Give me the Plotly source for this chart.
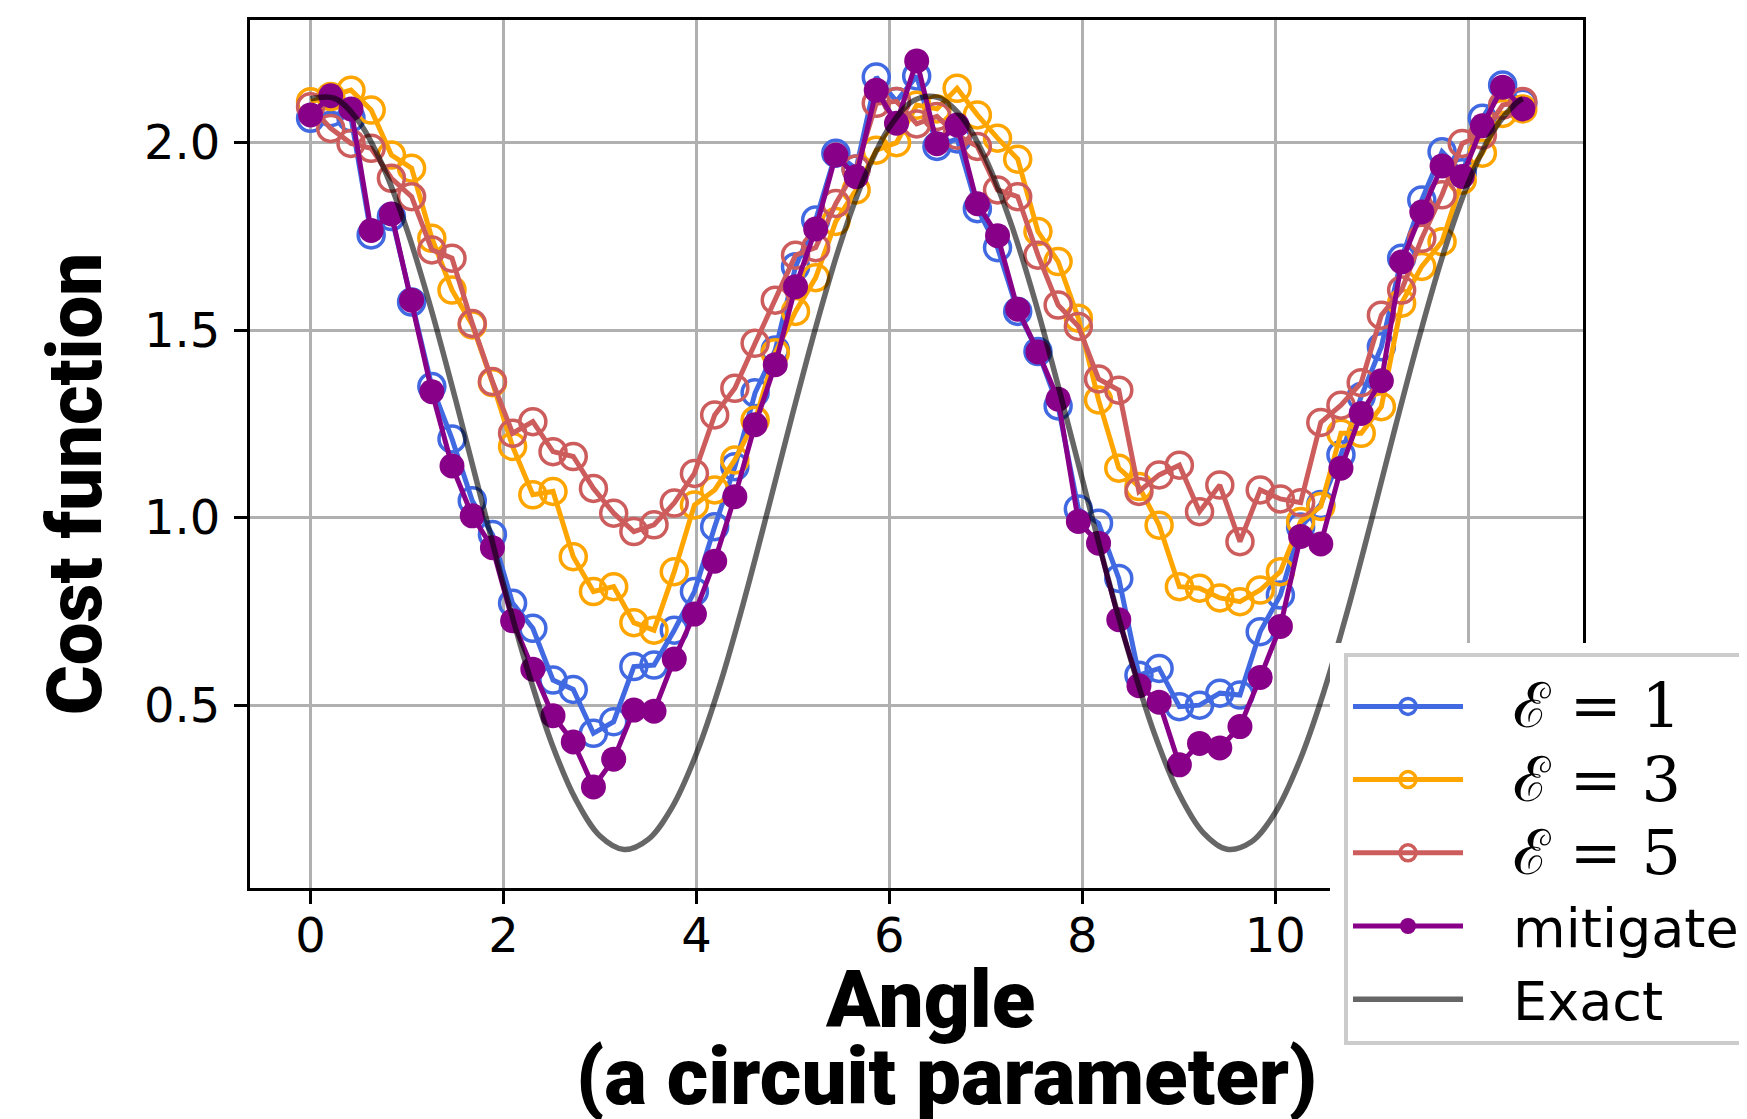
import plotly.graph_objects as go

# ---------------- data ----------------
angle = [0.0, 0.209, 0.419, 0.628, 0.838, 1.047, 1.257, 1.466, 1.676, 1.885,
         2.094, 2.304, 2.513, 2.723, 2.932, 3.142, 3.351, 3.560, 3.770, 3.979,
         4.189, 4.398, 4.608, 4.817, 5.027, 5.236, 5.445, 5.655, 5.864, 6.074,
         6.283, 6.493, 6.702, 6.912, 7.121, 7.330, 7.540, 7.749, 7.959, 8.168,
         8.378, 8.587, 8.796, 9.006, 9.215, 9.425, 9.634, 9.844, 10.053, 10.263,
         10.472, 10.681, 10.891, 11.100, 11.310, 11.519, 11.729, 11.938, 12.147, 12.357,
         12.566]

cost_e1 = [2.065, 2.08, 2.066, 1.754, 1.803, 1.575, 1.35, 1.21, 1.045, 0.955,
           0.772, 0.705, 0.567, 0.542, 0.425, 0.456, 0.603, 0.607, 0.70, 0.803,
           0.976, 1.136, 1.333, 1.447, 1.669, 1.794, 1.972, 1.93, 2.175, 2.11,
           2.178, 1.99, 2.01, 1.824, 1.72, 1.55, 1.443, 1.298, 1.023, 0.985,
           0.838, 0.58, 0.598, 0.496, 0.50, 0.532, 0.527, 0.696, 0.794, 0.975,
           1.035, 1.168, 1.323, 1.456, 1.692, 1.847, 1.976, 1.92, 2.065, 2.154,
           2.105]

cost_e3 = [2.109, 2.123, 2.14, 2.087, 1.967, 1.932, 1.745, 1.607, 1.514, 1.36,
           1.19, 1.061, 1.07, 0.896, 0.803, 0.816, 0.72, 0.70, 0.856, 1.034,
           1.074, 1.154, 1.26, 1.44, 1.55, 1.64, 1.79, 1.874, 1.98, 2.0,
           2.1, 2.09, 2.145, 2.074, 2.012, 1.956, 1.763, 1.683, 1.532, 1.314,
           1.132, 1.083, 0.98, 0.816, 0.812, 0.786, 0.776, 0.807, 0.856, 0.99,
           1.03, 1.225, 1.225, 1.296, 1.572, 1.67, 1.736, 1.90, 1.972, 2.078,
           2.09]

cost_e5 = [2.096, 2.038, 1.998, 1.985, 1.905, 1.856, 1.714, 1.692, 1.518, 1.363,
           1.225, 1.256, 1.176, 1.163, 1.078, 1.012, 0.963, 0.981, 1.039, 1.118,
           1.274, 1.345, 1.465, 1.58, 1.70, 1.72, 1.838, 1.93, 2.105, 2.11,
           2.05, 2.07, 2.02, 1.99, 1.874, 1.856, 1.70, 1.567, 1.51, 1.37,
           1.34, 1.07, 1.114, 1.14, 1.016, 1.087, 0.936, 1.074, 1.05, 1.04,
           1.254, 1.30, 1.36, 1.54, 1.607, 1.745, 1.861, 1.998, 2.02, 2.10,
           2.11]

cost_mitigated = [2.074, 2.125, 2.09, 1.766, 1.81, 1.58, 1.336, 1.138, 1.005, 0.92,
                  0.725, 0.596, 0.472, 0.402, 0.282, 0.356, 0.487, 0.484, 0.623, 0.743,
                  0.884, 1.056, 1.248, 1.408, 1.616, 1.77, 1.967, 1.909, 2.14, 2.052,
                  2.218, 1.997, 2.047, 1.837, 1.752, 1.556, 1.442, 1.316, 0.99, 0.932,
                  0.728, 0.552, 0.508, 0.341, 0.398, 0.386, 0.443, 0.574, 0.71, 0.95,
                  0.93, 1.132, 1.278, 1.365, 1.682, 1.815, 1.938, 1.91, 2.045, 2.148,
                  2.09]

exact_angle = [0.0, 0.25, 0.5, 0.75, 1.0, 1.25, 1.5, 1.75, 2.0, 2.25,
               2.5, 2.75, 3.0, 3.25, 3.5, 3.75, 4.0, 4.25, 4.5, 4.75,
               5.0, 5.25, 5.5, 5.75, 6.0, 6.25, 6.5, 6.75, 7.0, 7.25,
               7.5, 7.75, 8.0, 8.25, 8.5, 8.75, 9.0, 9.25, 9.5, 9.75,
               10.0, 10.25, 10.5, 10.75, 11.0, 11.25, 11.5, 11.75, 12.0, 12.25,
               12.5, 12.566]
exact_cost = [2.117, 2.118, 2.056, 1.937, 1.767, 1.556, 1.318, 1.069, 0.822, 0.594,
              0.398, 0.248, 0.151, 0.115, 0.142, 0.229, 0.371, 0.560, 0.785, 1.030,
              1.280, 1.520, 1.737, 1.913, 2.041, 2.112, 2.121, 2.068, 1.956, 1.792,
              1.587, 1.351, 1.102, 0.854, 0.623, 0.422, 0.265, 0.161, 0.116, 0.135,
              0.214, 0.350, 0.533, 0.753, 0.996, 1.247, 1.489, 1.710, 1.892, 2.027,
              2.106, 2.117]

NB = '\u00a0\u00a0\u202f'
series_names = [NB + '<span style="font-family:DejaVu Serif;font-size:62px">ℰ = 1</span>',
                NB + '<span style="font-family:DejaVu Serif;font-size:62px">ℰ = 3</span>',
                NB + '<span style="font-family:DejaVu Serif;font-size:62px">ℰ = 5</span>',
                NB + 'mitigated', NB + 'Exact']
x_ticks = [0, 2, 4, 6, 8, 10, 12]
y_ticks = [0.5, 1.0, 1.5, 2.0]

# ---------------- figure ----------------
W, H = 1747, 1119
ML, MT = 242, 12
PW, PH = 1333, 868
MR = W - ML - PW
MB = H - MT - PH

fig = go.Figure()

open_series = [(cost_e1, '#4169E1', series_names[0]),
               (cost_e3, '#FFA500', series_names[1]),
               (cost_e5, '#CD5C5C', series_names[2])]
for ys, col, nm in open_series:
    fig.add_trace(go.Scatter(
        x=angle, y=ys, mode='lines+markers', name=nm,
        line=dict(color=col, width=5),
        marker=dict(symbol='circle-open', size=26, color=col,
                    line=dict(color=col, width=3.5)),
    ))

fig.add_trace(go.Scatter(
    x=angle, y=cost_mitigated, mode='lines+markers', name=series_names[3],
    line=dict(color='#880088', width=5),
    marker=dict(symbol='circle', size=25, color='#880088', line=dict(width=0)),
))

fig.add_trace(go.Scatter(
    x=exact_angle, y=exact_cost, mode='lines', name=series_names[4],
    line=dict(color='rgba(0,0,0,0.6)', width=5.5, shape='spline', smoothing=1.0),
))

axis_common = dict(
    showline=True, linecolor='black', linewidth=3, mirror=True,
    ticks='outside', ticklen=13, tickwidth=3, tickcolor='black',
    showgrid=True, gridcolor='#b0b0b0', gridwidth=2.5,
    zeroline=False,
    tickfont=dict(family='DejaVu Sans', size=48, color='black'),
)

fig.update_xaxes(range=[-0.628, 13.19], tickvals=x_ticks, ticklabelstandoff=-10, **axis_common)
fig.update_yaxes(range=[0.0125, 2.327], tickvals=y_ticks, tickformat='.1f',
                 ticklabelstandoff=4, **axis_common)


def px_x(p):
    return (p - ML) / PW


def px_y(p):
    return (H - MB - p) / PH


title_font = dict(family='Roboto, Lato, sans-serif', size=80, weight=900, color='black')
ytitle_font = dict(family='Roboto, Lato, sans-serif', size=76, weight=900, color='black')

fig.update_layout(
    width=W, height=H,
    margin=dict(l=ML, r=MR, t=MT, b=MB, autoexpand=False),
    paper_bgcolor='white', plot_bgcolor='white',
    showlegend=True,
    legend=dict(x=px_x(1336), y=px_y(645), xanchor='left', yanchor='top',
                bgcolor='white', bordercolor='#cccccc', borderwidth=4,
                font=dict(family='DejaVu Sans', size=54, color='black'),
                title=dict(text='\u00a0', font=dict(size=6)),
                itemwidth=110),
    shapes=[dict(type='rect', xref='paper', yref='paper', layer='above',
                 x0=px_x(1322), x1=1.2, y0=-0.06, y1=px_y(635),
                 fillcolor='white', line=dict(width=0))],
    annotations=[
        dict(text='Cost function', xref='paper', yref='paper',
             x=px_x(67), y=px_y(476), xanchor='center', yanchor='middle',
             textangle=-90, showarrow=False, font=ytitle_font),
        dict(text='Angle', xref='paper', yref='paper',
             x=px_x(922), y=px_y(992), xanchor='center', yanchor='middle',
             showarrow=False, font=title_font),
        dict(text='(a circuit parameter)', xref='paper', yref='paper',
             x=px_x(938), y=px_y(1069), xanchor='center', yanchor='middle',
             showarrow=False, font=title_font),
    ],
)

fig.write_html('out.html')
